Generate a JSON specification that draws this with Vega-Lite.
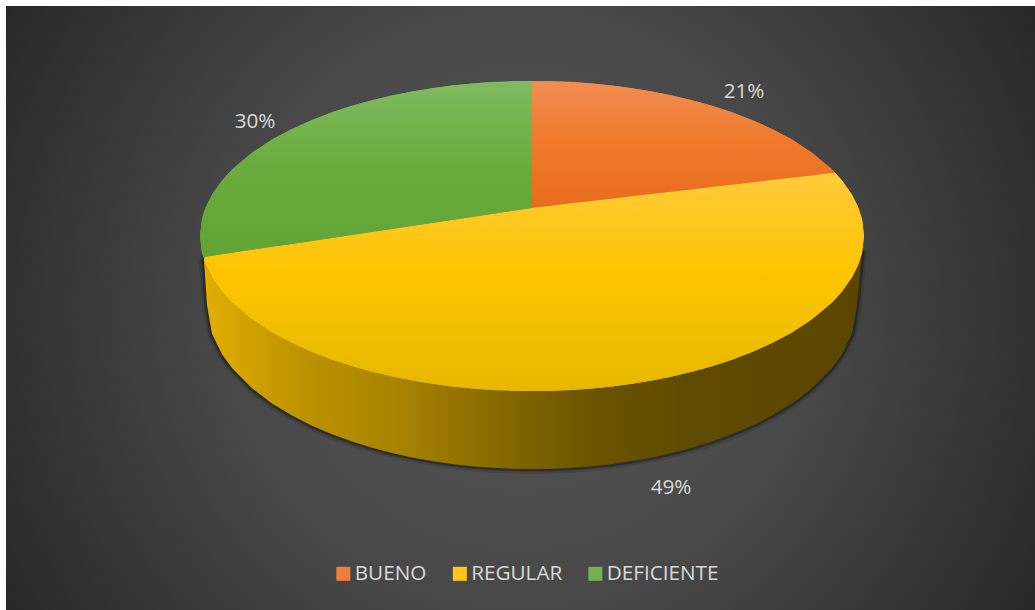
{"$schema":"https://vega.github.io/schema/vega-lite/v6.json","width":1035,"height":610,"padding":0,"autosize":{"type":"none"},"background":"#ffffff","config":{"view":{"stroke":null},"font":"Open Sans"},
"datasets":{
"panel":[{"x0":-526,"x1":503,"y0":230,"y1":-374}],
"side":[{"dx":-328,"top":-24,"bottom":-24},{"dx":-325,"top":-32,"bottom":-69},{"dx":-320,"top":-41.3,"bottom":-97.7},{"dx":-310,"top":-55.5,"bottom":-118.2},{"dx":-300,"top":-66.4,"bottom":-132.1},{"dx":-280,"top":-83.3,"bottom":-152.3},{"dx":-260,"top":-96.4,"bottom":-167.4},{"dx":-240,"top":-107.1,"bottom":-179.6},{"dx":-220,"top":-116.1,"bottom":-189.7},{"dx":-200,"top":-123.7,"bottom":-198.3},{"dx":-180,"top":-130.2,"bottom":-205.5},{"dx":-160,"top":-135.8,"bottom":-211.7},{"dx":-140,"top":-140.5,"bottom":-217},{"dx":-120,"top":-144.5,"bottom":-221.4},{"dx":-100,"top":-147.8,"bottom":-225},{"dx":-80,"top":-150.4,"bottom":-228},{"dx":-60,"top":-152.4,"bottom":-230.2},{"dx":-40,"top":-153.9,"bottom":-231.8},{"dx":-20,"top":-154.7,"bottom":-232.7},{"dx":0,"top":-155,"bottom":-233},{"dx":20,"top":-154.7,"bottom":-232.7},{"dx":40,"top":-153.9,"bottom":-231.8},{"dx":60,"top":-152.4,"bottom":-230.2},{"dx":80,"top":-150.4,"bottom":-228},{"dx":100,"top":-147.8,"bottom":-225},{"dx":120,"top":-144.5,"bottom":-221.4},{"dx":140,"top":-140.5,"bottom":-217},{"dx":160,"top":-135.8,"bottom":-211.7},{"dx":180,"top":-130.2,"bottom":-205.5},{"dx":200,"top":-123.7,"bottom":-198.3},{"dx":220,"top":-116.1,"bottom":-189.7},{"dx":240,"top":-107.1,"bottom":-179.6},{"dx":260,"top":-96.4,"bottom":-167.4},{"dx":280,"top":-83.3,"bottom":-152.3},{"dx":300,"top":-66.4,"bottom":-132.1},{"dx":310,"top":-55.5,"bottom":-118.2},{"dx":320,"top":-41.3,"bottom":-97.7},{"dx":325,"top":-32,"bottom":-69},{"dx":330,"top":-17,"bottom":-17}],
"slices":[
{"slice":"DEFICIENTE","dx":-332,"top":0,"bottom":0},{"slice":"DEFICIENTE","dx":-330,"top":17,"bottom":-17},{"slice":"DEFICIENTE","dx":-328,"top":24,"bottom":-22},{"slice":"DEFICIENTE","dx":-326,"top":29.3,"bottom":-20.7},{"slice":"DEFICIENTE","dx":-320,"top":41.3,"bottom":-19.8},{"slice":"DEFICIENTE","dx":-310,"top":55.5,"bottom":-18.3},{"slice":"DEFICIENTE","dx":-300,"top":66.4,"bottom":-16.8},{"slice":"DEFICIENTE","dx":-280,"top":83.3,"bottom":-13.8},{"slice":"DEFICIENTE","dx":-260,"top":96.4,"bottom":-10.8},{"slice":"DEFICIENTE","dx":-240,"top":107.1,"bottom":-7.9},{"slice":"DEFICIENTE","dx":-220,"top":116.1,"bottom":-4.9},{"slice":"DEFICIENTE","dx":-200,"top":123.7,"bottom":-1.9},{"slice":"DEFICIENTE","dx":-180,"top":130.2,"bottom":1.1},{"slice":"DEFICIENTE","dx":-160,"top":135.8,"bottom":4.1},{"slice":"DEFICIENTE","dx":-140,"top":140.5,"bottom":7.1},{"slice":"DEFICIENTE","dx":-120,"top":144.5,"bottom":10.1},{"slice":"DEFICIENTE","dx":-100,"top":147.8,"bottom":13.1},{"slice":"DEFICIENTE","dx":-80,"top":150.4,"bottom":16},{"slice":"DEFICIENTE","dx":-60,"top":152.4,"bottom":19},{"slice":"DEFICIENTE","dx":-40,"top":153.9,"bottom":22},{"slice":"DEFICIENTE","dx":-20,"top":154.7,"bottom":25},{"slice":"DEFICIENTE","dx":0,"top":155,"bottom":28},
{"slice":"BUENO","dx":0,"top":155,"bottom":28},{"slice":"BUENO","dx":20,"top":154.7,"bottom":30.3},{"slice":"BUENO","dx":40,"top":153.9,"bottom":32.7},{"slice":"BUENO","dx":60,"top":152.4,"bottom":35},{"slice":"BUENO","dx":80,"top":150.4,"bottom":37.3},{"slice":"BUENO","dx":100,"top":147.8,"bottom":39.7},{"slice":"BUENO","dx":120,"top":144.5,"bottom":42},{"slice":"BUENO","dx":140,"top":140.5,"bottom":44.3},{"slice":"BUENO","dx":160,"top":135.8,"bottom":46.6},{"slice":"BUENO","dx":180,"top":130.2,"bottom":49},{"slice":"BUENO","dx":200,"top":123.7,"bottom":51.3},{"slice":"BUENO","dx":220,"top":116.1,"bottom":53.6},{"slice":"BUENO","dx":240,"top":107.1,"bottom":56},{"slice":"BUENO","dx":260,"top":96.4,"bottom":58.3},{"slice":"BUENO","dx":280,"top":83.3,"bottom":60.6},{"slice":"BUENO","dx":300,"top":66.4,"bottom":63},{"slice":"BUENO","dx":303,"top":63.3,"bottom":63.3},
{"slice":"REGULAR","dx":-328,"top":-22,"bottom":-24},{"slice":"REGULAR","dx":-326,"top":-20.7,"bottom":-29.3},{"slice":"REGULAR","dx":-320,"top":-19.8,"bottom":-41.3},{"slice":"REGULAR","dx":-310,"top":-18.3,"bottom":-55.5},{"slice":"REGULAR","dx":-300,"top":-16.8,"bottom":-66.4},{"slice":"REGULAR","dx":-280,"top":-13.8,"bottom":-83.3},{"slice":"REGULAR","dx":-260,"top":-10.8,"bottom":-96.4},{"slice":"REGULAR","dx":-240,"top":-7.9,"bottom":-107.1},{"slice":"REGULAR","dx":-220,"top":-4.9,"bottom":-116.1},{"slice":"REGULAR","dx":-200,"top":-1.9,"bottom":-123.7},{"slice":"REGULAR","dx":-180,"top":1.1,"bottom":-130.2},{"slice":"REGULAR","dx":-160,"top":4.1,"bottom":-135.8},{"slice":"REGULAR","dx":-140,"top":7.1,"bottom":-140.5},{"slice":"REGULAR","dx":-120,"top":10.1,"bottom":-144.5},{"slice":"REGULAR","dx":-100,"top":13.1,"bottom":-147.8},{"slice":"REGULAR","dx":-80,"top":16,"bottom":-150.4},{"slice":"REGULAR","dx":-60,"top":19,"bottom":-152.4},{"slice":"REGULAR","dx":-40,"top":22,"bottom":-153.9},{"slice":"REGULAR","dx":-20,"top":25,"bottom":-154.7},{"slice":"REGULAR","dx":0,"top":28,"bottom":-155},{"slice":"REGULAR","dx":20,"top":30.3,"bottom":-154.7},{"slice":"REGULAR","dx":40,"top":32.7,"bottom":-153.9},{"slice":"REGULAR","dx":60,"top":35,"bottom":-152.4},{"slice":"REGULAR","dx":80,"top":37.3,"bottom":-150.4},{"slice":"REGULAR","dx":100,"top":39.7,"bottom":-147.8},{"slice":"REGULAR","dx":120,"top":42,"bottom":-144.5},{"slice":"REGULAR","dx":140,"top":44.3,"bottom":-140.5},{"slice":"REGULAR","dx":160,"top":46.6,"bottom":-135.8},{"slice":"REGULAR","dx":180,"top":49,"bottom":-130.2},{"slice":"REGULAR","dx":200,"top":51.3,"bottom":-123.7},{"slice":"REGULAR","dx":220,"top":53.6,"bottom":-116.1},{"slice":"REGULAR","dx":240,"top":56,"bottom":-107.1},{"slice":"REGULAR","dx":260,"top":58.3,"bottom":-96.4},{"slice":"REGULAR","dx":280,"top":60.6,"bottom":-83.3},{"slice":"REGULAR","dx":300,"top":63,"bottom":-66.4},{"slice":"REGULAR","dx":303,"top":63.3,"bottom":-63.3},{"slice":"REGULAR","dx":310,"top":55.5,"bottom":-55.5},{"slice":"REGULAR","dx":320,"top":41.3,"bottom":-41.3},{"slice":"REGULAR","dx":326,"top":29.3,"bottom":-29.3},{"slice":"REGULAR","dx":330,"top":17,"bottom":-17},{"slice":"REGULAR","dx":332,"top":0,"bottom":0}],
"labels":[{"slice":"BUENO","share":0.21,"dx":212,"v":144.5},{"slice":"REGULAR","share":0.49,"dx":139,"v":-252},{"slice":"DEFICIENTE","share":0.30,"dx":-277,"v":114}]},
"layer":[
{"data":{"name":"panel"},"mark":{"type":"rect","fill":{"gradient":"radial","x1":0.5,"y1":0.5,"r1":0,"x2":0.5,"y2":0.5,"r2":0.6,"stops":[{"offset":0,"color":"#575757"},{"offset":0.5,"color":"#474747"},{"offset":1,"color":"#262626"}]}},
"encoding":{"x":{"field":"x0","type":"quantitative","scale":{"domain":[-532,503],"range":[0,1035],"nice":false,"zero":false},"axis":null},"x2":{"field":"x1"},"y":{"field":"y0","type":"quantitative","scale":{"domain":[-374,236],"range":[610,0],"nice":false,"zero":false},"axis":null},"y2":{"field":"y1"}}},
{"data":{"name":"side"},"mark":{"type":"area","fill":"#000000","fillOpacity":0,"stroke":"#000000","strokeWidth":10,"strokeOpacity":0.12,"strokeJoin":"round"},"encoding":{"x":{"field":"dx","type":"quantitative","axis":null},"y":{"field":"top","type":"quantitative","axis":null},"y2":{"field":"bottom"}}},
{"data":{"name":"side"},"mark":{"type":"area","fill":"#000000","fillOpacity":0,"stroke":"#000000","strokeWidth":5,"strokeOpacity":0.3,"strokeJoin":"round"},"encoding":{"x":{"field":"dx","type":"quantitative","axis":null},"y":{"field":"top","type":"quantitative","axis":null},"y2":{"field":"bottom"}}},
{"data":{"name":"side"},"mark":{"type":"area","fill":{"gradient":"linear","x1":0,"y1":0,"x2":1,"y2":0,"stops":[{"offset":0,"color":"#E2AE00"},{"offset":0.15,"color":"#BD9200"},{"offset":0.3,"color":"#A88300"},{"offset":0.45,"color":"#856800"},{"offset":0.6,"color":"#6A5300"},{"offset":0.75,"color":"#5E4A00"},{"offset":1,"color":"#5A4600"}]}},"encoding":{"x":{"field":"dx","type":"quantitative","axis":null},"y":{"field":"top","type":"quantitative","axis":null},"y2":{"field":"bottom"}}},
{"data":{"name":"slices"},"mark":{"type":"area"},"encoding":{"x":{"field":"dx","type":"quantitative","axis":null},"y":{"field":"top","type":"quantitative","axis":null},"y2":{"field":"bottom"},
"color":{"field":"slice","type":"nominal","scale":{"domain":["BUENO","REGULAR","DEFICIENTE"],"range":["#F07F3A","#FFC619","#73B04F"]},
"legend":{"title":null,"orient":"none","legendX":333,"legendY":563,"direction":"horizontal","columns":3,"symbolType":"square","symbolSize":196,"symbolStrokeWidth":0,"symbolOpacity":1,"labelFont":"Open Sans","labelFontSize":20.7,"labelColor":"#D9D9D9","labelOffset":1,"columnPadding":22.5}}}},
{"data":{"name":"slices"},"transform":[{"filter":"datum.slice==='BUENO'"}],"mark":{"type":"area","fill":{"gradient":"linear","x1":0,"y1":0,"x2":0,"y2":1,"stops":[{"offset":0,"color":"#F28D52"},{"offset":0.5,"color":"#F0782A"},{"offset":1,"color":"#E96C1E"}]}},"encoding":{"x":{"field":"dx","type":"quantitative","axis":null},"y":{"field":"top","type":"quantitative","axis":null},"y2":{"field":"bottom"}}},
{"data":{"name":"slices"},"transform":[{"filter":"datum.slice==='REGULAR'"}],"mark":{"type":"area","fill":{"gradient":"linear","x1":0,"y1":0,"x2":0,"y2":1,"stops":[{"offset":0,"color":"#FFCA3C"},{"offset":0.45,"color":"#FDC500"},{"offset":1,"color":"#E6B800"}]}},"encoding":{"x":{"field":"dx","type":"quantitative","axis":null},"y":{"field":"top","type":"quantitative","axis":null},"y2":{"field":"bottom"}}},
{"data":{"name":"slices"},"transform":[{"filter":"datum.slice==='DEFICIENTE'"}],"mark":{"type":"area","fill":{"gradient":"linear","x1":0,"y1":0,"x2":0,"y2":1,"stops":[{"offset":0,"color":"#80BA60"},{"offset":0.5,"color":"#6AAB3C"},{"offset":1,"color":"#62A336"}]}},"encoding":{"x":{"field":"dx","type":"quantitative","axis":null},"y":{"field":"top","type":"quantitative","axis":null},"y2":{"field":"bottom"}}},
{"data":{"name":"labels"},"mark":{"type":"text","font":"Open Sans","fontSize":20.7,"color":"#D9D9D9","baseline":"middle","align":"center"},"encoding":{"x":{"field":"dx","type":"quantitative","axis":null},"y":{"field":"v","type":"quantitative","axis":null},"text":{"field":"share","type":"quantitative","format":".0%"}}}
]}
